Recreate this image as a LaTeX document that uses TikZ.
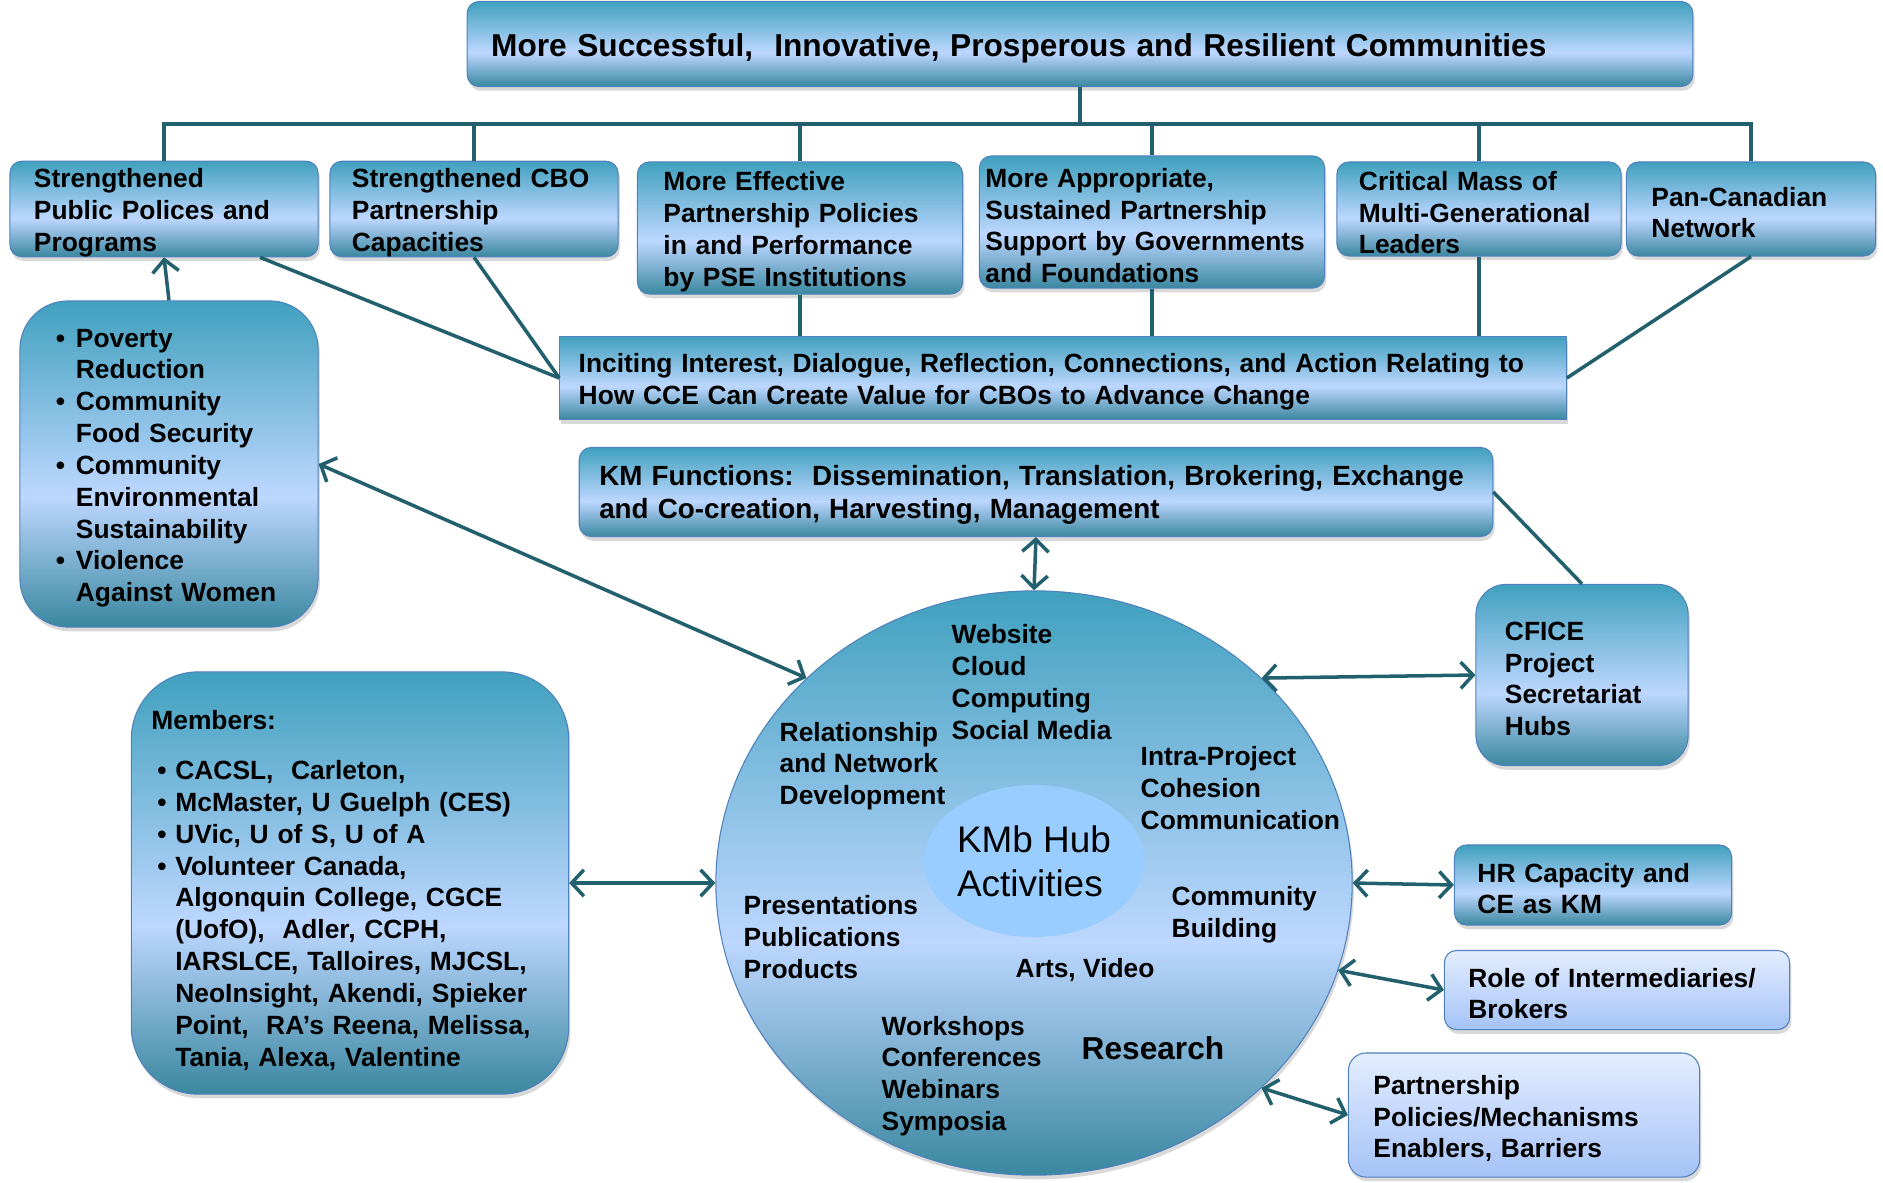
\documentclass[tikz,border=0pt]{standalone}
\usepackage{fontspec}
\setmainfont{Liberation Sans}
\usetikzlibrary{arrows.meta,shapes.geometric,shadows}

\definecolor{oceantop}{HTML}{40A0BE}
\definecolor{oceanlite}{HTML}{BDD7FF}
\definecolor{oceanbot}{HTML}{3A87A0}
\definecolor{paletop}{HTML}{E3EDFF}
\definecolor{palebot}{HTML}{A5C3F7}
\definecolor{corelite}{HTML}{99CCFF}
\definecolor{edge}{HTML}{4F81BD}
\definecolor{wire}{HTML}{23606E}

\pgfdeclareverticalshading{ocean}{100bp}{color(0bp)=(oceanbot); color(25bp)=(oceanbot); color(45bp)=(oceanlite); color(75bp)=(oceantop); color(100bp)=(oceantop)}

\newcommand\boxfont{\fontsize{7.5}{9.05}\selectfont\bfseries}
\newcommand\titlefont{\fontsize{9}{10.8}\selectfont\bfseries}
\newcommand\itembul{\makebox[0.2cm][l]{\textbullet}}
\newcommand\membul{\hspace*{0.06cm}\makebox[0.18cm][l]{\textbullet}}

\begin{document}
\begin{tikzpicture}[
    x=0.01cm, y=-0.01cm,
    box/.style={draw=edge, line width=0.3pt, shading=ocean, rounded corners=3.4pt,
        drop shadow={shadow xshift=0.5pt, shadow yshift=-1.2pt, opacity=0.3},
        align=left, inner ysep=0pt, font=\boxfont,
        execute at begin node={\rule{0pt}{7.5pt}}},
    pale/.style={box, top color=paletop, bottom color=palebot},
    act/.style={anchor=west, align=left, inner sep=0pt, font=\boxfont},
    link/.style={draw=wire, line width=1pt},
    both/.style={link, {Straight Barb[length=3.5pt,width=7.5pt]}-{Straight Barb[length=3.5pt,width=7.5pt]}},
    >={Straight Barb[length=3.5pt,width=7.5pt]}
]
\useasboundingbox (0,0) rectangle (1883,1182);

% goal and outcomes
\node[box, font=\titlefont, text width=11.77cm, inner xsep=0.24cm, minimum height=0.85cm] (top) at (1080,44)
    {\rule{0pt}{8.9pt}More Successful,\ \ Innovative, Prosperous and Resilient Communities};

\node[box, text width=2.60cm, inner xsep=0.24cm, minimum height=0.94cm] (b1) at (164,209)
    {Strengthened\\Public Polices and\\Programs};
\node[box, text width=2.44cm, inner xsep=0.22cm, minimum height=0.94cm] (b2) at (474,209)
    {Strengthened CBO\\Partnership\\Capacities};
\node[box, text width=2.73cm, inner xsep=0.26cm, minimum height=1.32cm] (b3) at (800,228)
    {More Effective\\Partnership Policies\\in and Performance\\by PSE Institutions};
\node[box, text width=3.33cm, inner xsep=0.06cm, minimum height=1.32cm] (b4) at (1152,222)
    {More Appropriate,\\Sustained Partnership\\Support by Governments\\and Foundations};
\node[box, text width=2.40cm, inner xsep=0.22cm, minimum height=0.94cm] (b5) at (1479,209)
    {Critical Mass of\\Multi-Generational\\Leaders};
\node[box, text width=1.99cm, inner xsep=0.25cm, minimum height=0.94cm] (b6) at (1751,209)
    {Pan-Canadian\\Network};

\node[box, sharp corners, text width=9.68cm, inner xsep=0.19cm, minimum height=0.83cm] (cce) at (1063,378)
    {Inciting Interest, Dialogue, Reflection, Connections, and Action Relating to\\How CCE Can Create Value for CBOs to Advance Change};
\node[box, font=\fontsize{7.9}{9.5}\selectfont\bfseries, text width=8.73cm, inner xsep=0.20cm, minimum height=0.89cm] (km) at (1036,492)
    {KM Functions:\ \ Dissemination, Translation, Brokering, Exchange\\and Co-creation, Harvesting, Management};

% side boxes
\node[box, rounded corners=13.7pt, text width=2.26cm, inner xsep=0.36cm, minimum height=3.26cm] (issues) at (169,464)
    {\itembul Poverty\\\hspace*{0.2cm}Reduction\\
     \itembul Community\\\hspace*{0.2cm}Food Security\\
     \itembul Community\\\hspace*{0.2cm}Environmental\\\hspace*{0.2cm}Sustainability\\
     \itembul Violence\\\hspace*{0.2cm}Against Women};
\node[box, rounded corners=19pt, text width=3.97cm, inner xsep=0.20cm, minimum height=4.22cm] (members) at (350,883)
    {\rule{0pt}{9.5pt}Members:\\[5.3pt]
     \membul CACSL,\ \ Carleton,\\
     \membul McMaster, U Guelph (CES)\\
     \membul UVic, U of S, U of A\\
     \membul Volunteer Canada,\\
     \hspace*{0.24cm}Algonquin College, CGCE\\
     \hspace*{0.24cm}(UofO),\ \ Adler, CCPH,\\
     \hspace*{0.24cm}IARSLCE, Talloires, MJCSL,\\
     \hspace*{0.24cm}NeoInsight, Akendi, Spieker\\
     \hspace*{0.24cm}Point,\ \ RA’s Reena, Melissa,\\
     \hspace*{0.24cm}Tania, Alexa, Valentine};
\node[box, rounded corners=8.5pt, text width=1.54cm, inner xsep=0.29cm, minimum height=1.81cm] (cfice) at (1582,675)
    {CFICE\\Project\\Secretariat\\Hubs};
\node[box, text width=2.31cm, inner xsep=0.23cm, minimum height=0.80cm] (hr) at (1593,885)
    {HR Capacity and\\CE as KM};
\node[pale, text width=2.97cm, inner xsep=0.24cm, minimum height=0.79cm] (role) at (1617,990)
    {Role of Intermediaries/\\Brokers};
\node[pale, rounded corners=5pt, text width=3.01cm, inner xsep=0.25cm, minimum height=1.24cm] (part) at (1524,1115)
    {Partnership\\Policies/Mechanisms\\Enablers, Barriers};

% hub
\node[ellipse, draw=edge, line width=0.3pt, shading=ocean, inner sep=0pt,
    drop shadow={shadow xshift=0.5pt, shadow yshift=-1.2pt, opacity=0.3},
    minimum width=6.36cm, minimum height=5.84cm] (hub) at (1034,883) {};
\node[ellipse, fill=corelite, inner sep=0pt, minimum width=2.2cm, minimum height=1.52cm,
    align=left, font=\fontsize{10.5}{12.6}\selectfont] (core) at (1034,861) {KMb Hub\\Activities};

\node[act] (web) at (951,682) {Website\\Cloud\\Computing\\Social Media};
\node[act] (rel) at (779,766) {Relationship\\and Network\\Development};
\node[act] (intra) at (1140,788) {Intra-Project\\Cohesion\\Communication};
\node[act] (pres) at (743,937) {Presentations\\Publications\\Products};
\node[act] (comm) at (1171,915) {Community\\Building};
\node[act] (arts) at (1015,970) {Arts, Video};
\node[act] (work) at (881,1076) {Workshops\\Conferences\\Webinars\\Symposia};
\node[act, font=\fontsize{9}{10.8}\selectfont\bfseries] (res) at (1081,1048) {Research};

% connectors
\coordinate (bus) at (0,124);
\draw[link] (top.south) -- (top.south |- bus);
\draw[link] (b1.north) |- (b6.north |- bus) -- (b6.north);
\foreach \n in {b2,b3,b4,b5}
    \draw[link] (\n.north) -- (\n.north |- bus);
\foreach \n in {b3,b4,b5}
    \draw[link] (\n.south) -- (\n.south |- cce.north);
\draw[link] ([xshift=0.96cm]b1.south) -- (cce.west);
\draw[link] (b2.south) -- (cce.west);
\draw[link] (b6.south) -- (cce.east);
\draw[link] (km.east) -- (cfice.north);
\draw[link, ->] (issues.north) -- (b1.south);

\draw[both] (km.south) -- (hub.north);
\draw[both] (issues.east) -- (hub.138);
\draw[both] (members.east) -- (hub.west);
\draw[both] (hub.42) -- (cfice.west);
\draw[both] (hub.east) -- (hr.west);
\draw[both] (hub.-16) -- (role.west);
\draw[both] (hub.-42) -- (part.west);
\end{tikzpicture}
\end{document}
